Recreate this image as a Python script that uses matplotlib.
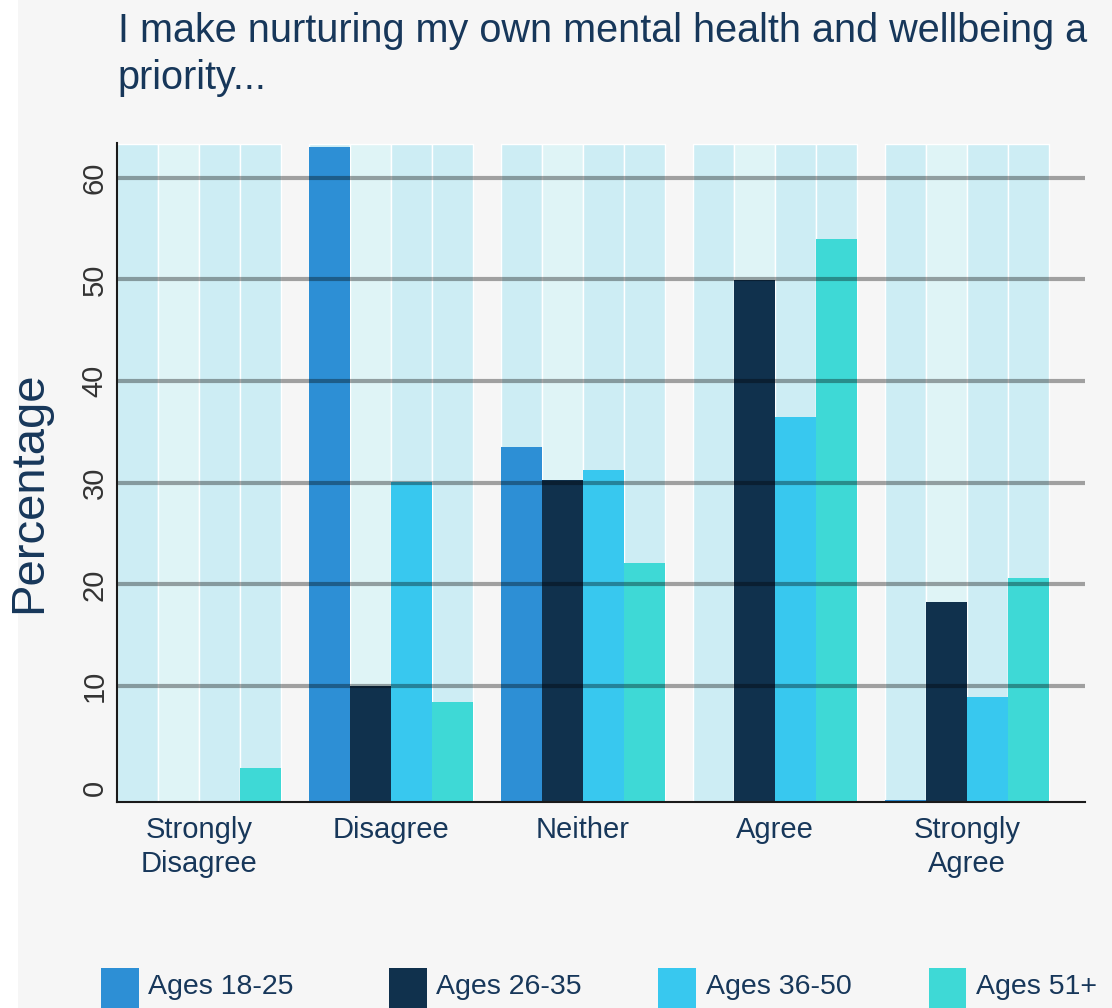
import numpy as np
import matplotlib
matplotlib.use("Agg")
import matplotlib.pyplot as plt
from matplotlib.patches import Rectangle

# data
categories = ["Strongly\nDisagree", "Disagree", "Neither", "Agree", "Strongly\nAgree"]
series = ["Ages 18-25", "Ages 26-35", "Ages 36-50", "Ages 51+"]
ages_18_25 = [0.0, 63.0, 33.5, 0.0, 0.2]
ages_26_35 = [0.0, 10.0, 30.3, 49.9, 18.3]
ages_36_50 = [0.0, 30.1, 31.3, 36.5, 8.9]
ages_51_up = [1.9, 8.4, 22.1, 54.0, 20.6]
values = [ages_18_25, ages_26_35, ages_36_50, ages_51_up]
max_value = 63.3

colors = ["#2d8fd5", "#10314d", "#38c8ef", "#3ed9d6"]
bg_colors = ["#cdedf4", "#dff4f6", "#cdedf4", "#cdedf4"]
text_color = "#17375a"

plt.rcParams['font.family'] = ['Liberation Sans', 'DejaVu Sans']

fig = plt.figure(figsize=(11.12, 10.08), dpi=100)
fig.patch.set_facecolor("#f6f6f6")
fig.add_artist(Rectangle((0, 0), 0.016, 1, transform=fig.transFigure,
                         facecolor="white", edgecolor="none", zorder=0))

ax = fig.add_axes([0.1052, 0.2044, 0.8705, 0.6536])
ax.set_facecolor("none")

ymin, ymax = -1.4, 63.4
w = 0.2135
x = np.arange(len(categories))

for i in range(len(series)):
    pos = x + (i - 1.5) * w
    # light background bars showing the full scale
    ax.bar(pos, max_value - ymin, width=w, bottom=ymin, color=bg_colors[i],
           edgecolor="white", linewidth=1, zorder=1)
    v = np.array(values[i])
    # bars rise from the axis line; near-zero values stay as thin slivers
    heights = np.where(v > 0.5, v - ymin, v)
    ax.bar(pos, heights, width=w, bottom=ymin, color=colors[i],
           linewidth=0, zorder=2)

# gridlines on top of the bars
for yv in [10, 20, 30, 40, 50, 60]:
    ax.axhline(yv, color="black", alpha=0.35, linewidth=3, zorder=3)

ax.set_xlim(-0.427, 4.615)
ax.set_ylim(ymin, ymax)
ax.set_yticks([0, 10, 20, 30, 40, 50, 60])
ax.set_yticklabels(["0", "10", "20", "30", "40", "50", "60"], rotation=90,
                   va="center", fontsize=21, color="#333333")
ax.tick_params(axis="y", length=0, pad=6)
ax.set_xticks(x)
ax.set_xticklabels(categories, fontsize=21, color=text_color, linespacing=1.3)
ax.tick_params(axis="x", length=0, pad=10)

for side in ["top", "right"]:
    ax.spines[side].set_visible(False)
for side in ["left", "bottom"]:
    ax.spines[side].set_color("#1a1a1a")
    ax.spines[side].set_linewidth(1.5)
    ax.spines[side].set_zorder(4)

ax.set_ylabel("Percentage", fontsize=34, color=text_color)
ax.yaxis.set_label_coords(-0.068, 0.47)

fig.text(0.106, 0.988, "I make nurturing my own mental health and wellbeing a\npriority...",
         fontsize=28.5, color=text_color, va="top", ha="left", linespacing=1.3)

# legend placed by hand like the reference
legend_x = [0.091, 0.350, 0.592, 0.835]
for i in range(len(series)):
    fig.add_artist(Rectangle((legend_x[i], -0.01), 0.034, 0.05,
                             transform=fig.transFigure, facecolor=colors[i],
                             edgecolor="none"))
    fig.text(legend_x[i] + 0.0425, 0.021, series[i], fontsize=20.5,
             color=text_color, va="center", ha="left")

fig.savefig("out.png", dpi=100, facecolor=fig.get_facecolor())
